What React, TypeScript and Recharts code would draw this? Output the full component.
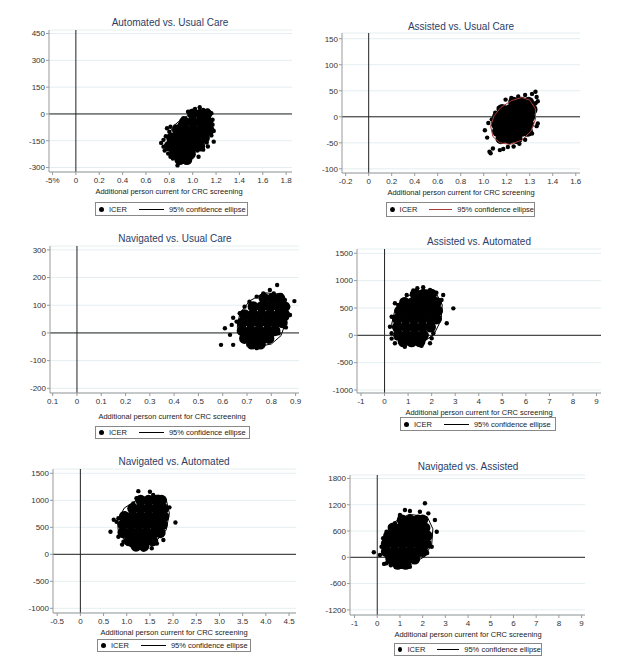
import React from "react";
import { ScatterChart, Scatter, XAxis, YAxis, CartesianGrid, ReferenceLine } from "recharts";

type Pt = [number, number];

// ---- Automated vs. Usual Care ----
const p1Core: Pt[] = [
  [1.0, 0], [1.07, 0], [1.12, 0],
  [0.93, -45], [1.0, -45], [1.07, -45], [1.13, -45],
  [0.87, -90], [0.94, -90], [1.01, -90], [1.08, -90], [1.14, -90],
  [0.82, -135], [0.89, -135], [0.96, -135], [1.03, -135], [1.1, -135],
  [0.8, -180], [0.87, -180], [0.94, -180], [1.01, -180], [1.06, -180],
  [0.84, -225], [0.91, -225], [0.98, -225],
  [0.89, -255], [0.95, -255],
];
const p1Edge: Pt[] = [
  [0.73, -162], [0.75, -183], [0.76, -205], [0.79, -222], [0.81, -240], [0.83, -250], [0.87, -288],
  [0.9, -258], [0.95, -266], [1.0, -222], [1.05, -240], [1.09, -200], [1.13, -182], [1.18, -155],
  [1.16, -120], [1.18, -95], [1.17, -60], [1.17, -32], [1.16, 4], [1.13, 20], [1.09, 22], [1.06, 38],
  [1.02, 28], [0.96, 13], [0.92, -24], [0.89, -58], [0.85, -70], [0.81, -72], [0.8, -100],
  [0.77, -125], [0.75, -145], [0.78, -80], [1.04, -205], [1.12, -160],
];
const p1Ellipse: Pt[] = [
  [1.1, 5], [1.15, -20], [1.16, -70], [1.13, -130], [1.07, -190], [0.99, -230], [0.9, -245],
  [0.82, -225], [0.78, -180], [0.79, -120], [0.84, -65], [0.92, -20], [1.02, 5], [1.1, 5],
];
const p1XTicks = [-0.2, 0, 0.2, 0.4, 0.6, 0.8, 1.0, 1.2, 1.4, 1.6, 1.8];
const p1XLabels = ["-5%", "0", "0.2", "0.4", "0.6", "0.8", "1.0", "1.2", "1.4", "1.6", "1.8"];
const p1YTicks = [-300, -150, 0, 150, 300, 450];

// ---- Assisted vs. Usual Care ----
const p2Core: Pt[] = [
  [1.26, 28], [1.33, 28], [1.39, 28],
  [1.16, 14], [1.23, 14], [1.3, 14], [1.37, 14], [1.42, 14],
  [1.12, 0], [1.19, 0], [1.26, 0], [1.33, 0], [1.4, 0],
  [1.11, -14], [1.18, -14], [1.25, -14], [1.32, -14], [1.39, -14],
  [1.12, -28], [1.19, -28], [1.26, -28], [1.33, -28], [1.38, -28],
  [1.15, -42], [1.22, -42], [1.29, -42],
];
const p2Edge: Pt[] = [
  [1.01, -26], [1.03, -40], [1.04, -12], [1.05, -67], [1.06, -70], [1.08, -61], [1.14, -64],
  [1.17, -62], [1.21, -58], [1.26, -57], [1.31, -52], [1.36, -44], [1.42, -32], [1.47, -13],
  [1.46, -18], [1.45, 26], [1.47, 30], [1.46, 38], [1.45, 48], [1.42, 44], [1.36, 42], [1.3, 39],
  [1.24, 36], [1.19, 33], [1.13, 17], [1.1, 8], [1.07, -5],
];
const p2Ellipse: Pt[] = [
  [1.33, 37], [1.4, 32], [1.45, 15], [1.45, -5], [1.41, -28], [1.33, -45], [1.23, -53],
  [1.14, -50], [1.08, -38], [1.06, -18], [1.09, 2], [1.15, 18], [1.24, 31], [1.33, 37],
];
const p2XTicks = [-0.2, 0, 0.2, 0.4, 0.6, 0.8, 1.0, 1.2, 1.4, 1.6, 1.8];
const p2XLabels = ["-0.2", "0", "0.2", "0.4", "0.6", "0.8", "1.0", "1.2", "1.3", "1.4", "1.6"];
const p2YTicks = [-100, -50, 0, 50, 100, 150];

// ---- Navigated vs. Usual Care ----
const p3Core: Pt[] = [
  [0.77, 125], [0.805, 125], [0.835, 125],
  [0.725, 95], [0.76, 95], [0.795, 95], [0.83, 95], [0.855, 95],
  [0.69, 66], [0.725, 66], [0.76, 66], [0.795, 66], [0.83, 66], [0.855, 66],
  [0.68, 37], [0.715, 37], [0.75, 37], [0.785, 37], [0.82, 37], [0.845, 37],
  [0.68, 8], [0.715, 8], [0.75, 8], [0.785, 8], [0.815, 8],
  [0.69, -20], [0.725, -20], [0.76, -20], [0.79, -20],
  [0.72, -40], [0.755, -40],
];
const p3Edge: Pt[] = [
  [0.593, -43], [0.609, 17], [0.63, -7], [0.637, 29], [0.643, -43], [0.657, 41], [0.643, 55],
  [0.67, 71], [0.69, 95], [0.71, 113], [0.74, 131], [0.767, 143], [0.794, 155], [0.81, 143],
  [0.824, 173], [0.84, 137], [0.856, 119], [0.87, 95], [0.877, 65], [0.895, 115], [0.863, 53],
  [0.86, 20], [0.83, -1], [0.794, -25], [0.76, -37], [0.726, -49], [0.705, -43], [0.74, -55],
  [0.68, -20],
];
const p3Ellipse: Pt[] = [
  [0.84, 140], [0.865, 100], [0.86, 40], [0.84, -10], [0.8, -40], [0.74, -50], [0.69, -30],
  [0.66, 20], [0.67, 70], [0.71, 115], [0.77, 145], [0.84, 140],
];
const p3XTicks = [-0.1, 0, 0.1, 0.2, 0.3, 0.4, 0.5, 0.6, 0.7, 0.8, 0.9];
const p3XLabels = ["0.1", "0", "0.1", "0.2", "0.3", "0.4", "0.5", "0.6", "0.7", "0.8", "0.9"];
const p3YTicks = [-200, -100, 0, 100, 200, 300];

// ---- Assisted vs. Automated ----
const p4Core: Pt[] = [
  [1.3, 750], [1.65, 750], [2.0, 750],
  [0.85, 600], [1.2, 600], [1.55, 600], [1.9, 600], [2.2, 600],
  [0.65, 450], [1.0, 450], [1.35, 450], [1.7, 450], [2.05, 450], [2.25, 450],
  [0.55, 300], [0.9, 300], [1.25, 300], [1.6, 300], [1.95, 300], [2.2, 300],
  [0.55, 150], [0.9, 150], [1.25, 150], [1.6, 150], [1.95, 150],
  [0.6, 0], [0.95, 0], [1.3, 0], [1.65, 0],
  [0.8, -120], [1.15, -120], [1.5, -120],
];
const p4Edge: Pt[] = [
  [1.64, 880], [1.39, 860], [1.22, 820], [1.93, 828], [2.49, 737], [2.42, 645], [2.92, 493],
  [2.64, 219], [2.3, 400], [2.07, 37], [2.0, -55], [1.93, -146], [1.64, -117], [1.57, -190],
  [1.2, -130], [0.86, -208], [0.65, -117], [0.44, -146], [0.3, 37], [0.23, 157], [0.3, 340],
  [0.44, 585], [0.58, 554], [0.79, 645], [0.94, 737], [2.2, 780], [1.8, 800], [0.3, -60], [0.5, -50],
];
const p4Ellipse: Pt[] = [
  [2.2, 760], [2.45, 560], [2.4, 280], [2.1, 20], [1.6, -140], [1.0, -150], [0.5, -30],
  [0.3, 200], [0.45, 480], [0.9, 700], [1.5, 820], [2.2, 760],
];
const p4XTicks = [-1, 0, 1, 2, 3, 4, 5, 6, 7, 8, 9];
const p4XLabels = ["-1", "0", "1", "2", "3", "4", "5", "6", "7", "8", "9"];
const p4YTicks = [-1000, -500, 0, 500, 1000, 1500];

// ---- Navigated vs. Automated ----
const p5Core: Pt[] = [
  [1.3, 1000], [1.47, 1000], [1.64, 1000], [1.75, 1000],
  [1.13, 850], [1.3, 850], [1.47, 850], [1.64, 850], [1.78, 850],
  [0.95, 700], [1.12, 700], [1.29, 700], [1.46, 700], [1.63, 700], [1.8, 700],
  [0.92, 550], [1.09, 550], [1.26, 550], [1.43, 550], [1.6, 550], [1.77, 550],
  [0.92, 400], [1.09, 400], [1.26, 400], [1.43, 400], [1.6, 400], [1.72, 400],
  [1.05, 250], [1.22, 250], [1.39, 250], [1.56, 250],
  [1.2, 150], [1.37, 150],
];
const p5Edge: Pt[] = [
  [1.25, 1170], [1.5, 1160], [1.57, 1098], [1.68, 1067], [1.8, 1020], [1.86, 820], [1.92, 870],
  [2.05, 590], [1.79, 265], [1.54, 111], [1.36, 90], [1.32, 141], [1.03, 204], [0.93, 233],
  [0.82, 326], [0.65, 419], [0.78, 604], [0.72, 640], [0.82, 667], [0.96, 759], [1.07, 852],
  [1.14, 944], [1.21, 1037], [0.9, 180], [1.1, 170], [1.65, 200],
];
const p5Ellipse: Pt[] = [
  [1.85, 1020], [1.92, 760], [1.85, 450], [1.62, 230], [1.3, 160], [1.0, 220], [0.82, 400],
  [0.8, 640], [0.95, 860], [1.25, 1020], [1.6, 1070], [1.85, 1020],
];
const p5XTicks = [-0.5, 0, 0.5, 1.0, 1.5, 2.0, 2.5, 3.0, 3.5, 4.0, 4.5];
const p5XLabels = ["-0.5", "0", "0.5", "1.0", "1.5", "2.0", "2.5", "3.0", "3.5", "4.0", "4.5"];
const p5YTicks = [-1000, -500, 0, 500, 1000, 1500];

// ---- Navigated vs. Assisted ----
const p6Core: Pt[] = [
  [1.1, 850], [1.45, 850], [1.8, 850], [2.0, 850],
  [0.7, 670], [1.05, 670], [1.4, 670], [1.75, 670], [2.1, 670],
  [0.5, 490], [0.85, 490], [1.2, 490], [1.55, 490], [1.9, 490], [2.2, 490],
  [0.4, 310], [0.75, 310], [1.1, 310], [1.45, 310], [1.8, 310], [2.15, 310],
  [0.4, 130], [0.75, 130], [1.1, 130], [1.45, 130], [1.8, 130], [2.0, 130],
  [0.6, -40], [0.95, -40], [1.3, -40], [1.65, -40],
  [0.9, -160], [1.25, -160],
];
const p6Edge: Pt[] = [
  [2.1, 1233], [1.44, 1057], [1.22, 1080], [1.0, 966], [1.88, 1041], [2.25, 1004], [2.54, 852],
  [2.62, 585], [2.4, 242], [2.2, 100], [1.73, -23], [1.44, -215], [1.07, -215], [0.7, -137],
  [0.41, -137], [0.12, 53], [-0.15, 114], [0.19, 242], [0.26, 434], [0.41, 585], [0.56, 699],
  [0.78, 776], [1.0, 890], [0.3, -150], [0.6, -180],
];
const p6Ellipse: Pt[] = [
  [2.2, 930], [2.45, 650], [2.4, 300], [2.1, 20], [1.5, -160], [0.9, -170], [0.4, -40],
  [0.2, 250], [0.4, 580], [0.8, 820], [1.4, 980], [2.2, 930],
];
const p6XTicks = [-1, 0, 1, 2, 3, 4, 5, 6, 7, 8, 9];
const p6XLabels = ["-1", "0", "1", "2", "3", "4", "5", "6", "7", "8", "9"];
const p6YTicks = [-1200, -600, 0, 600, 1200, 1800];

const FONT = "'Liberation Sans', Arial, sans-serif";
const X_TITLE = "Additional person current for CRC screening";

type PanelCfg = {
  title: string;
  left: number;
  top: number;
  yw: number;
  mt: number;
  mr: number;
  mb: number;
  xDomain: [number, number];
  yDomain: [number, number];
  core: Pt[];
  edge: Pt[];
  ellipse: Pt[];
  ellipseColor: string;
  xTicks: number[];
  xLabels: string[];
  yTicks: number[];
  titleAt: [number, number];
  xTitleAt: [number, number];
  legendBox: [number, number, number, number];
};

const panels: PanelCfg[] = [
  {
    title: "Automated vs. Usual Care", left: 0, top: 0, yw: 49, mt: 30, mr: 17, mb: 18,
    xDomain: [-0.23, 1.85], yDomain: [-325, 470],
    core: p1Core, edge: p1Edge, ellipse: p1Ellipse, ellipseColor: "#000",
    xTicks: p1XTicks, xLabels: p1XLabels, yTicks: p1YTicks,
    titleAt: [170, 23], xTitleAt: [169, 192], legendBox: [95, 202, 153, 14],
  },
  {
    title: "Assisted vs. Usual Care", left: 309, top: 0, yw: 33, mt: 33, mr: 38, mb: 17,
    xDomain: [-0.232, 1.837], yDomain: [-108, 161],
    core: p2Core, edge: p2Edge, ellipse: p2Ellipse, ellipseColor: "#a83a3a",
    xTicks: p2XTicks, xLabels: p2XLabels, yTicks: p2YTicks,
    titleAt: [461, 27], xTitleAt: [461, 193], legendBox: [386, 202, 149, 15],
  },
  {
    title: "Navigated vs. Usual Care", left: 0, top: 220, yw: 50, mt: 26, mr: 10, mb: 17,
    xDomain: [-0.111, 0.914], yDomain: [-217, 314],
    core: p3Core, edge: p3Edge, ellipse: p3Ellipse, ellipseColor: "#000",
    xTicks: p3XTicks, xLabels: p3XLabels, yTicks: p3YTicks,
    titleAt: [175, 239], xTitleAt: [172, 417], legendBox: [95, 426, 155, 13],
  },
  {
    title: "Assisted vs. Automated", left: 309, top: 220, yw: 48, mt: 29, mr: 17, mb: 17,
    xDomain: [-1.17, 9.19], yDomain: [-1055, 1578],
    core: p4Core, edge: p4Edge, ellipse: p4Ellipse, ellipseColor: "#000",
    xTicks: p4XTicks, xLabels: p4XLabels, yTicks: p4YTicks,
    titleAt: [479, 242], xTitleAt: [479, 413], legendBox: [400, 417, 156, 14],
  },
  {
    title: "Navigated vs. Automated", left: 0, top: 440, yw: 53, mt: 29, mr: 13, mb: 17,
    xDomain: [-0.59, 4.65], yDomain: [-1087, 1580],
    core: p5Core, edge: p5Edge, ellipse: p5Ellipse, ellipseColor: "#000",
    xTicks: p5XTicks, xLabels: p5XLabels, yTicks: p5YTicks,
    titleAt: [174, 462], xTitleAt: [174, 633], legendBox: [97, 639, 154, 13],
  },
  {
    title: "Navigated vs. Assisted", left: 309, top: 440, yw: 41, mt: 35, mr: 33, mb: 15,
    xDomain: [-1.2, 9.15], yDomain: [-1317, 1879],
    core: p6Core, edge: p6Edge, ellipse: p6Ellipse, ellipseColor: "#000",
    xTicks: p6XTicks, xLabels: p6XLabels, yTicks: p6YTicks,
    titleAt: [468, 467], xTitleAt: [468, 635], legendBox: [394, 643, 148, 13],
  },
];

const toRows = (a: Pt[]) => a.map(([x, y]) => ({ x, y }));
const bigDot = (p: any) => <circle cx={p.cx} cy={p.cy} r={5.5} fill="#000" />;
const smallDot = (p: any) => <circle cx={p.cx} cy={p.cy} r={2.2} fill="#000" />;
const noDot = () => <g />;

function Panel({ cfg }: { cfg: PanelCfg }) {
  const fmt = (v: number) => {
    const i = cfg.xTicks.findIndex((t) => Math.abs(t - v) < 1e-6);
    return i >= 0 ? cfg.xLabels[i] : String(v);
  };
  const [lx, ly, lw, lh] = cfg.legendBox;
  const axisStyle = { fontSize: 8, fill: "#333", fontFamily: FONT };
  return (
    <>
      <div style={{ position: "absolute", left: cfg.left, top: cfg.top }}>
        <ScatterChart width={309} height={220} margin={{ top: cfg.mt, right: cfg.mr, bottom: cfg.mb, left: 0 }}>
          <CartesianGrid vertical={false} stroke="#e4eef0" />
          <XAxis
            type="number"
            dataKey="x"
            domain={cfg.xDomain}
            ticks={cfg.xTicks}
            interval={0}
            tickFormatter={fmt}
            height={30}
            allowDataOverflow
            tick={axisStyle}
            tickSize={3}
            tickMargin={2}
            stroke="#999"
          />
          <YAxis
            type="number"
            dataKey="y"
            domain={cfg.yDomain}
            ticks={cfg.yTicks}
            interval={0}
            width={cfg.yw}
            allowDataOverflow
            tick={axisStyle}
            tickSize={3}
            tickMargin={1}
            stroke="#999"
          />
          <ReferenceLine x={0} stroke="#222" />
          <ReferenceLine y={0} stroke="#222" />
          <Scatter data={toRows(cfg.core)} shape={bigDot} isAnimationActive={false} />
          <Scatter data={toRows(cfg.edge)} shape={smallDot} isAnimationActive={false} />
          <Scatter
            data={toRows(cfg.ellipse)}
            shape={noDot}
            line={{ stroke: cfg.ellipseColor, strokeWidth: 1 }}
            lineType="joint"
            isAnimationActive={false}
          />
        </ScatterChart>
      </div>
      <div
        style={{
          position: "absolute", left: cfg.titleAt[0] - 100, top: cfg.titleAt[1] - 7, width: 200,
          textAlign: "center", fontSize: 10, lineHeight: "14px", color: "#2c3d66", fontFamily: FONT,
        }}
      >
        {cfg.title}
      </div>
      <div
        style={{
          position: "absolute", left: cfg.xTitleAt[0] - 100, top: cfg.xTitleAt[1] - 5, width: 200,
          textAlign: "center", fontSize: 7.5, lineHeight: "10px", color: "#222", fontFamily: FONT,
        }}
      >
        {X_TITLE}
      </div>
      <div
        style={{
          position: "absolute", left: lx, top: ly, width: lw, height: lh, boxSizing: "border-box",
          border: "1px solid #888", background: "#fff", display: "flex", alignItems: "center",
          fontSize: 7.5, color: "#222", fontFamily: FONT, paddingLeft: 3, whiteSpace: "nowrap",
        }}
      >
        <span style={{ width: 5, height: 5, borderRadius: "50%", background: "#000", display: "inline-block" }} />
        <span style={{ marginLeft: 5 }}>ICER</span>
        <span style={{ width: 25, height: 0, borderTop: `1px solid ${cfg.ellipseColor}`, marginLeft: 12, display: "inline-block" }} />
        <span style={{ marginLeft: 5 }}>95% confidence ellipse</span>
      </div>
    </>
  );
}

export default function App() {
  return (
    <div style={{ position: "absolute", left: 0, top: 0, width: 618, height: 671, background: "#fff", overflow: "hidden" }}>
      {panels.map((p) => (
        <Panel key={p.title} cfg={p} />
      ))}
    </div>
  );
}
